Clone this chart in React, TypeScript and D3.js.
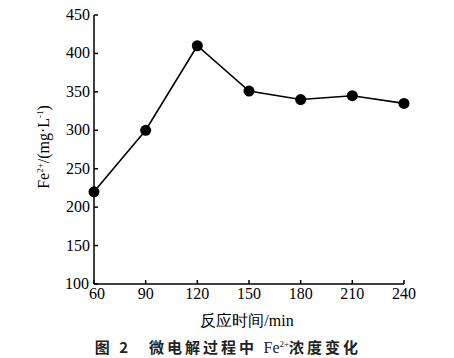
import React from "react";
import * as d3 from "d3";

const times = [60, 90, 120, 150, 180, 210, 240];
const fe = [220, 300, 410, 351, 340, 345, 335];
const yTicks = [100, 150, 200, 250, 300, 350, 400, 450];
const xTicks = [60, 90, 120, 150, 180, 210, 240];

export default function App() {
  const W = 454, H = 358;
  const x = d3.scaleLinear().domain([60, 240]).range([94, 404]);
  const y = d3.scaleLinear().domain([100, 450]).range([284, 15]);
  const line = d3.line<number>().x((_, i) => x(times[i])).y((d) => y(d));
  const serif = "'Liberation Serif', 'Times New Roman', serif";
  return (
    <svg width={W} height={H} style={{ position: "absolute", left: 0, top: 0, background: "#fff" }}>
      <g stroke="#000" strokeWidth={1.5} fill="none">
        <line x1={94} x2={94} y1={y(450)} y2={y(100)} />
        <line x1={94} x2={x(240)} y1={284} y2={284} />
        {yTicks.map((t) => (
          <line key={"y" + t} x1={94} x2={98} y1={y(t)} y2={y(t)} />
        ))}
        {xTicks.map((t) => (
          <line key={"x" + t} x1={x(t)} x2={x(t)} y1={284} y2={280} />
        ))}
      </g>
      <g fontFamily={serif} fontSize={16} fill="#000">
        {yTicks.map((t) => (
          <text key={"yl" + t} x={t === 100 ? 89 : 90} y={y(t) + 5} textAnchor="end">{t}</text>
        ))}
        {xTicks.map((t) => (
          <text key={"xl" + t} x={x(t) + (t === 60 ? 3 : 0)} y={299} textAnchor="middle">{t}</text>
        ))}
      </g>
      <path d={line(fe) || ""} fill="none" stroke="#000" strokeWidth={1.6} />
      {fe.map((v, i) => (
        <circle key={i} cx={x(times[i])} cy={y(v)} r={5.5} fill="#000" />
      ))}
      <text
        transform="translate(49,147) rotate(-90)"
        textAnchor="middle"
        fontFamily={serif}
        fontSize={16}
        fill="#000"
      >
        Fe<tspan fontSize={9} dy={-6}>2+</tspan>
        <tspan dy={6}>/(mg·L</tspan>
        <tspan fontSize={9} dy={-6}>-1</tspan>
        <tspan dy={6}>)</tspan>
      </text>
      <text x={247} y={326} textAnchor="middle" fontFamily={serif} fontSize={16} fill="#000">
        反应时间/min
      </text>
      <text
        x={228}
        y={353}
        textAnchor="middle"
        fontFamily="'Noto Sans CJK SC', sans-serif"
        fontWeight="bold"
        fontSize={15}
        letterSpacing={3}
        fill="#222"
      >
        图 2　微电解过程中 <tspan fontFamily={serif} fontWeight="normal" fontSize={16} letterSpacing={0}>Fe</tspan>
        <tspan fontFamily={serif} fontWeight="normal" fontSize={9} dy={-6} letterSpacing={0}>2+</tspan>
        <tspan dy={6}>浓度变化</tspan>
      </text>
    </svg>
  );
}
